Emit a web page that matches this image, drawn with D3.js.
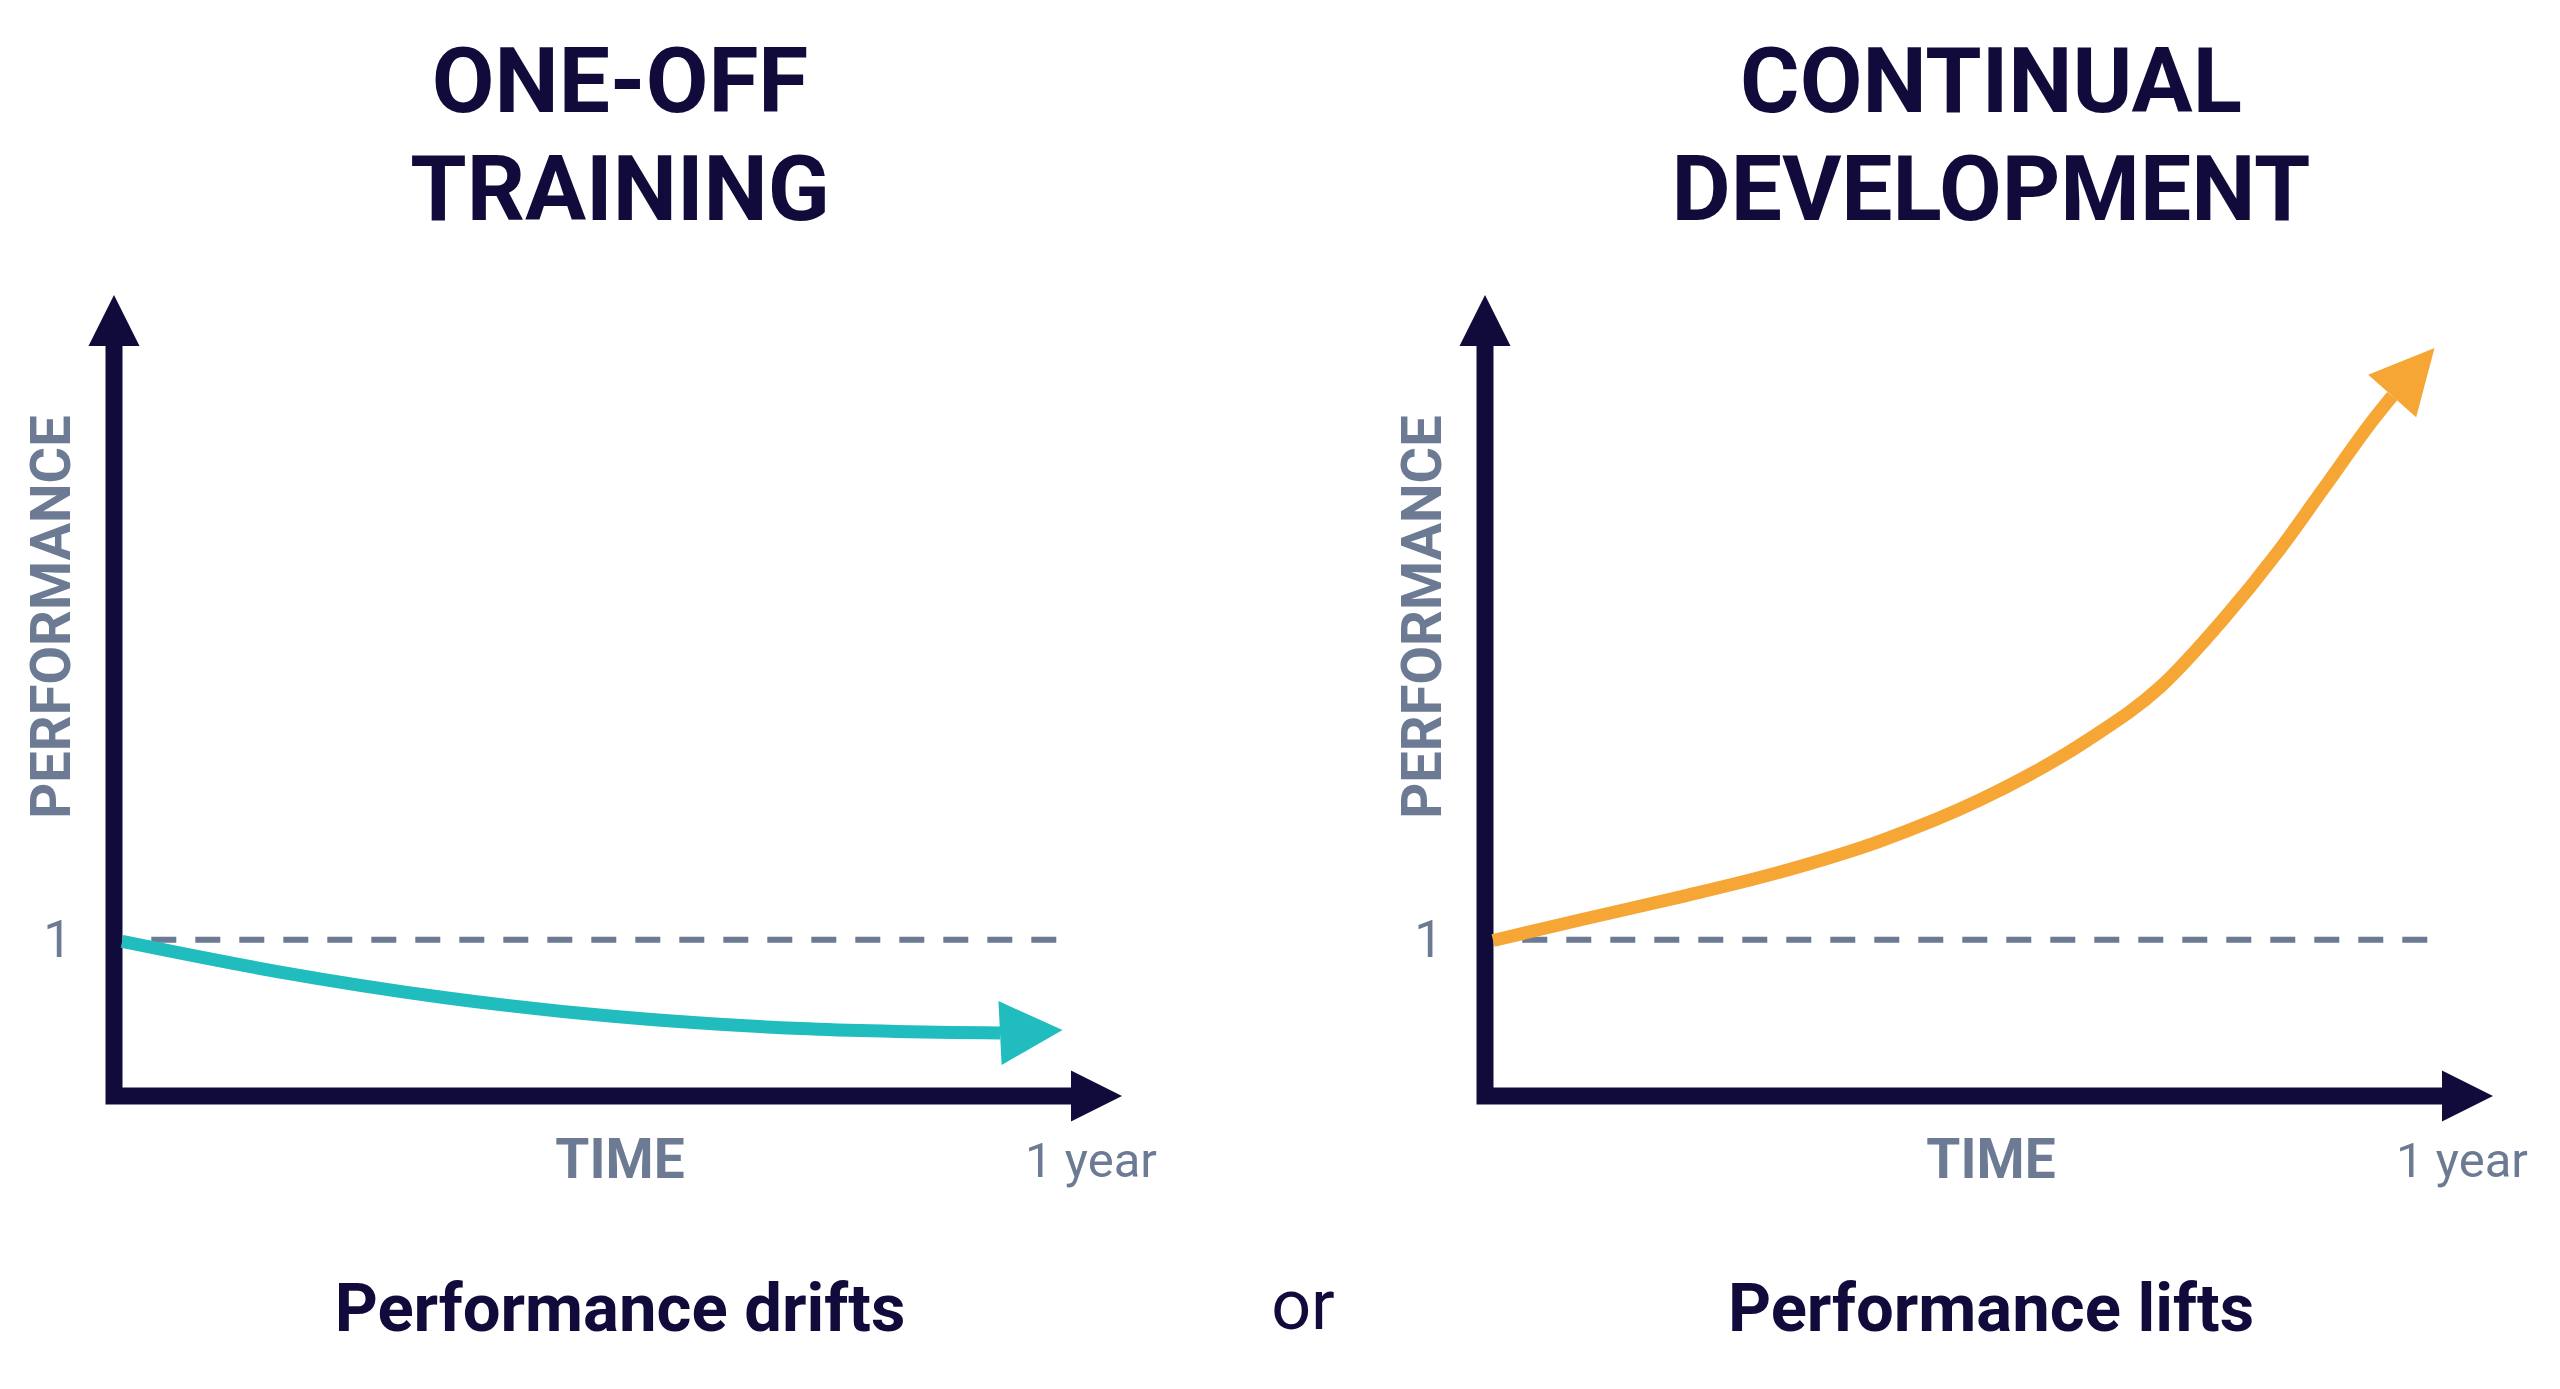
<!DOCTYPE html>
<html>
<head>
<meta charset="utf-8">
<script src="https://cdn.jsdelivr.net/npm/d3@7"></script>
<style>
  html, body { margin: 0; padding: 0; background: #ffffff; }
  svg { display: block; }
</style>
</head>
<body>
<script>
// ---------- data ----------
const panelTitles = [["ONE-OFF", "TRAINING"], ["CONTINUAL", "DEVELOPMENT"]];
const panelCaptions = ["Performance drifts", "Performance lifts"];
const middleWord = "or";
const yAxisLabel = "PERFORMANCE";
const xAxisLabel = "TIME";
const yTickLabel = "1";
const xTickLabel = "1 year";
const baselineValue = 1;

// one-off training (time in years, performance relative to start)
const driftTime = [0.008, 0.162, 0.327, 0.492, 0.681, 0.879];
const driftPerf = [0.99, 0.797, 0.631, 0.512, 0.432, 0.403];
const driftTip = [0.941, 0.423];

// continual development
const liftTime = [0.008, 0.094, 0.193, 0.293, 0.392, 0.491, 0.598, 0.670, 0.732, 0.786, 0.833, 0.881, 0.900];
const liftPerf = [0.996, 1.127, 1.274, 1.435, 1.633, 1.896, 2.28, 2.62, 3.05, 3.48, 3.90, 4.33, 4.483];
const liftTip = [0.942, 4.79];

const series = [
  { t: driftTime, p: driftPerf, tip: driftTip, color: "#21bdbe" },
  { t: liftTime,  p: liftPerf,  tip: liftTip,  color: "#f6a634" }
];

// ---------- style ----------
const W = 2560, H = 1389;
const NAVY = "#100b3b";
const GREY = "#6c7b93";
const panelOffset = [0, 1371];

const svg = d3.select("body").append("svg").attr("width", W).attr("height", H);

const x = d3.scaleLinear().domain([0, 1]).range([114, 1122]);
const y = d3.scaleLinear().domain([0, 5.13]).range([1096, 295]);

const line = d3.line()
  .x((d) => x(d[0]))
  .y((d) => y(d[1]))
  .curve(d3.curveMonotoneX);

function arrowHead(bx, by, tx, ty, half) {
  const dx = tx - bx, dy = ty - by;
  const len = Math.hypot(dx, dy);
  const nx = -dy / len, ny = dx / len;
  return [[tx, ty], [bx + nx * half, by + ny * half], [bx - nx * half, by - ny * half]];
}

panelOffset.forEach((off, i) => {
  const g = svg.append("g").attr("transform", `translate(${off},0)`);

  // title
  const title = g.append("text")
    .attr("x", 620)
    .attr("text-anchor", "middle")
    .attr("font-family", "Roboto, 'Noto Sans', sans-serif")
    .attr("font-weight", 700)
    .attr("font-size", 91)
    .attr("fill", NAVY);
  panelTitles[i].forEach((ln, k) => {
    title.append("tspan").attr("x", 620).attr("y", 112 + k * 108).text(ln);
  });

  // dashed baseline
  g.append("line")
    .attr("x1", x(0.037)).attr("x2", x(0.94))
    .attr("y1", y(baselineValue)).attr("y2", y(baselineValue))
    .attr("stroke", GREY)
    .attr("stroke-width", 6)
    .attr("stroke-dasharray", "25 19");

  // axes
  const x0 = x(0), y0 = y(0);
  const yTop = y.range()[1], xEnd = x.range()[1];
  const head = 50, half = 25.5;
  g.append("path")
    .attr("d", `M${x0},${yTop + head} L${x0},${y0} L${xEnd - head},${y0}`)
    .attr("fill", "none")
    .attr("stroke", NAVY)
    .attr("stroke-width", 17)
    .attr("stroke-linejoin", "miter");
  g.append("polygon")
    .attr("points", arrowHead(x0, yTop + head + 1, x0, yTop, half).join(" "))
    .attr("fill", NAVY);
  g.append("polygon")
    .attr("points", arrowHead(xEnd - head - 1, y0, xEnd, y0, half).join(" "))
    .attr("fill", NAVY);

  // curve
  const s = series[i];
  const pts = s.t.map((t, k) => [t, s.p[k]]);
  g.append("path")
    .attr("d", line(pts))
    .attr("fill", "none")
    .attr("stroke", s.color)
    .attr("stroke-width", 13)
    .attr("stroke-linecap", "butt");
  const last = pts[pts.length - 1];
  g.append("polygon")
    .attr("points", arrowHead(x(last[0]), y(last[1]), x(s.tip[0]), y(s.tip[1]), 32).join(" "))
    .attr("fill", s.color);

  // y label
  g.append("text")
    .attr("transform", `translate(70,617) rotate(-90)`)
    .attr("text-anchor", "middle")
    .attr("font-family", "Roboto, 'Noto Sans', sans-serif")
    .attr("font-weight", 700)
    .attr("font-size", 56)
    .attr("fill", GREY)
    .text(yAxisLabel);

  // y tick
  g.append("text")
    .attr("x", 72).attr("y", y(baselineValue) + 17)
    .attr("text-anchor", "end")
    .attr("font-family", "Roboto, 'Noto Sans', sans-serif")
    .attr("font-weight", 400)
    .attr("font-size", 51)
    .attr("fill", GREY)
    .text(yTickLabel);

  // x label
  g.append("text")
    .attr("x", 620).attr("y", 1178)
    .attr("text-anchor", "middle")
    .attr("font-family", "Roboto, 'Noto Sans', sans-serif")
    .attr("font-weight", 700)
    .attr("font-size", 55)
    .attr("fill", GREY)
    .text(xAxisLabel);

  // x tick
  g.append("text")
    .attr("x", 1091).attr("y", 1177)
    .attr("text-anchor", "middle")
    .attr("font-family", "Roboto, 'Noto Sans', sans-serif")
    .attr("font-weight", 400)
    .attr("font-size", 49)
    .attr("fill", GREY)
    .text(xTickLabel);

  // caption
  g.append("text")
    .attr("x", 620).attr("y", 1331)
    .attr("text-anchor", "middle")
    .attr("font-family", "Roboto, 'Noto Sans', sans-serif")
    .attr("font-weight", 700)
    .attr("font-size", 67)
    .attr("fill", NAVY)
    .text(panelCaptions[i]);
});

svg.append("text")
  .attr("x", 1303).attr("y", 1329)
  .attr("text-anchor", "middle")
  .attr("font-family", "Roboto, 'Noto Sans', sans-serif")
  .attr("font-weight", 400)
  .attr("font-size", 70)
  .attr("fill", NAVY)
  .text(middleWord);
</script>
</body>
</html>
